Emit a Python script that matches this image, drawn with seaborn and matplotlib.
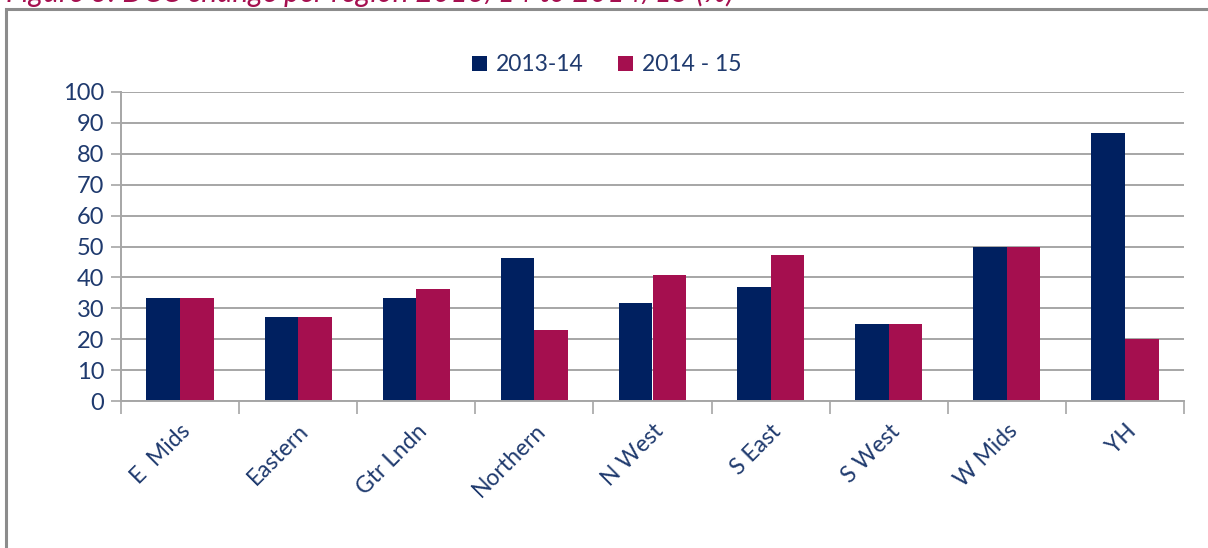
import pandas as pd
import matplotlib.pyplot as plt
import seaborn as sns
from matplotlib.patches import Patch, Rectangle

regions = ["E  Mids", "Eastern", "Gtr Lndn", "Northern", "N West",
           "S East", "S West", "W Mids", "YH"]
vals_1314 = [33.3, 27.3, 33.3, 46.2, 31.8, 36.8, 25.0, 50.0, 86.7]
vals_1415 = [33.3, 27.3, 36.4, 23.1, 40.9, 47.4, 25.0, 50.0, 20.0]
series = ["2013-14", "2014 - 15"]
colors = ["#002060", "#A50F4F"]
text_col = "#1F3A6E"

df = pd.DataFrame({
    "region": regions * 2,
    "value": vals_1314 + vals_1415,
    "period": [series[0]] * len(regions) + [series[1]] * len(regions),
})

sns.set_theme(style="white")
plt.rcParams["font.family"] = ["Lato", "DejaVu Sans"]

fig = plt.figure(figsize=(12.08, 5.48), dpi=100)
ax = fig.add_axes([121 / 1208, 1 - 401 / 548, (1184 - 121) / 1208, (401 - 92) / 548])

sns.barplot(data=df, x="region", y="value", hue="period", palette=colors,
            width=0.57, gap=0, saturation=1, ax=ax, legend=False,
            edgecolor="none")

ax.set_ylim(0, 100)
ax.set_xlim(-0.5, len(regions) - 0.5)
ax.set_yticks(range(0, 101, 10))
ax.yaxis.grid(True, color="#A6A6A6", linewidth=1.4)
ax.set_axisbelow(True)
ax.set_xlabel("")
ax.set_ylabel("")

for s in ["top", "right"]:
    ax.spines[s].set_visible(False)
for s in ["left", "bottom"]:
    ax.spines[s].set_color("#A6A6A6")
    ax.spines[s].set_linewidth(1.4)

ax.tick_params(axis="y", which="major", length=7, width=1.2, color="#A6A6A6",
               labelsize=17, labelcolor=text_col, pad=5, left=True)
ax.set_xticks([i + 0.5 for i in range(-1, len(regions))], minor=True)
ax.tick_params(axis="x", which="minor", length=9, width=1.2, color="#A6A6A6",
               bottom=True)
ax.tick_params(axis="x", which="major", length=0, labelsize=16.5,
               labelcolor=text_col, pad=14)
ax.set_xticks(range(len(regions)))
ax.set_xticklabels(regions, rotation=45, ha="right", rotation_mode="anchor")

handles = [Patch(facecolor=c, edgecolor="none", label=l) for c, l in zip(colors, series)]
leg = fig.legend(handles=handles, loc="center", bbox_to_anchor=(607 / 1208, 1 - 65 / 548),
                 ncol=2, frameon=False, fontsize=16.5, handlelength=0.65,
                 handleheight=0.65, handletextpad=0.4, columnspacing=1.5)
for t in leg.get_texts():
    t.set_color(text_col)

# outer chart frame (cropped on right and bottom)
fig.patches.append(Rectangle((6 / 1208, -0.05), 1.1, 1 - 9 / 548 + 0.05,
                             transform=fig.transFigure, fill=False,
                             edgecolor="#8C8C8C", linewidth=2.2))

fig.text(6 / 1208, 1 - 2 / 548,
         "Figure 3: DCC change per region 2013/14 to 2014/15 (%)",
         color="#A50F4F", fontsize=21.5, style="italic", va="baseline", ha="left")

fig.savefig("out.png", dpi=100)
